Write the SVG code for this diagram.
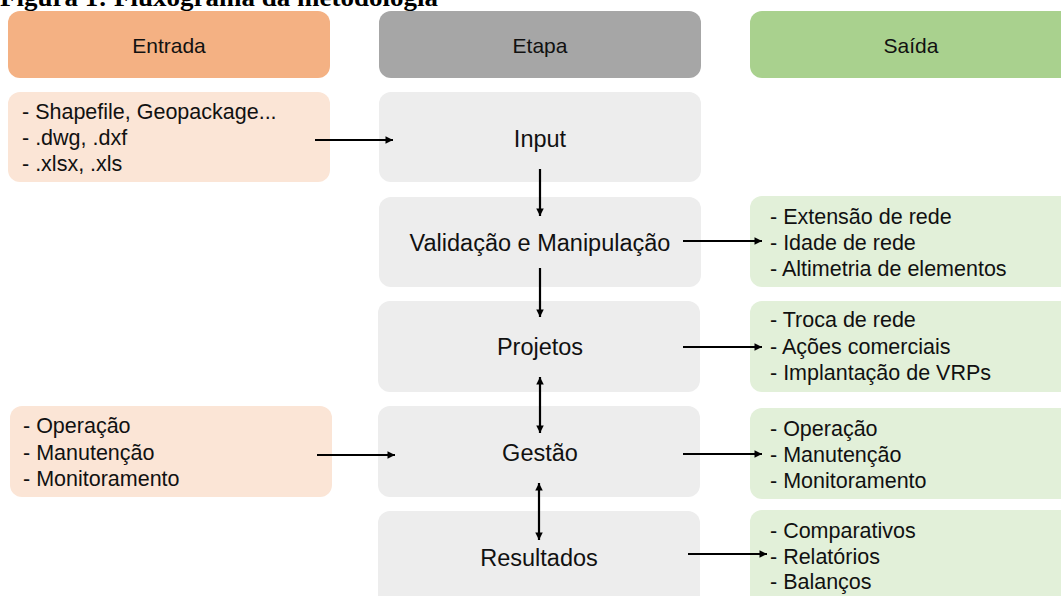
<svg xmlns="http://www.w3.org/2000/svg" width="1061" height="596" viewBox="0 0 1061 596">
<style>
.hdr{font-family:"Liberation Sans",Arial,sans-serif;font-size:21px;fill:#111;text-anchor:middle}
.lbl{font-family:"Liberation Sans",Arial,sans-serif;font-size:23.5px;fill:#111;text-anchor:middle}
.lst{font-family:"Liberation Sans",Arial,sans-serif;font-size:21.5px;fill:#111}
.title{font-family:"Liberation Serif","Times New Roman",serif;font-size:26px;font-weight:bold;fill:#000}
.conn line{stroke:#000;stroke-width:2.2}
</style>
<defs>
<marker id="ah" viewBox="0 0 10 10" refX="10" refY="5" markerWidth="4" markerHeight="3.4" markerUnits="strokeWidth" orient="auto-start-reverse">
<path d="M0,0 L10,5 L0,10 z" fill="#000"/>
</marker>
</defs>
<rect width="1061" height="596" fill="#fff"/>
<text class="title" x="0" y="6" textLength="438" lengthAdjust="spacingAndGlyphs">Figura 1: Fluxograma da metodologia</text>

<g id="hdr-entrada"><rect x="8" y="11" width="322" height="67" rx="12" fill="#F4B183"/><text class="hdr" x="169" y="53">Entrada</text></g>
<g id="hdr-etapa"><rect x="379" y="11" width="322" height="67" rx="12" fill="#A6A6A6"/><text class="hdr" x="540" y="53">Etapa</text></g>
<g id="hdr-saida"><rect x="750" y="11" width="322" height="67" rx="12" fill="#A9D18E"/><text class="hdr" x="911" y="53">Saída</text></g>

<g id="in1"><rect x="8" y="92" width="322" height="90" rx="12" fill="#FBE5D6"/>
<text class="lst" x="22" y="119">- Shapefile, Geopackage...</text>
<text class="lst" x="22" y="145">- .dwg, .dxf</text>
<text class="lst" x="22" y="171">- .xlsx, .xls</text></g>
<g id="in2"><rect x="10" y="406" width="322" height="91" rx="12" fill="#FBE5D6"/>
<text class="lst" x="23" y="433">- Operação</text>
<text class="lst" x="23" y="460">- Manutenção</text>
<text class="lst" x="23" y="486">- Monitoramento</text></g>

<g id="input"><rect x="379" y="92" width="322" height="90" rx="12" fill="#EDEDED"/><text class="lbl" x="540" y="147">Input</text></g>
<g id="validacao"><rect x="379" y="197" width="322" height="90" rx="12" fill="#EDEDED"/><text class="lbl" x="540" y="251">Validação e Manipulação</text></g>
<g id="projetos"><rect x="378" y="301" width="322" height="91" rx="12" fill="#EDEDED"/><text class="lbl" x="540" y="355">Projetos</text></g>
<g id="gestao"><rect x="378" y="406" width="322" height="91" rx="12" fill="#EDEDED"/><text class="lbl" x="540" y="461">Gestão</text></g>
<g id="resultados"><rect x="378" y="511" width="322" height="100" rx="12" fill="#EDEDED"/><text class="lbl" x="539" y="566">Resultados</text></g>

<g id="out1"><rect x="750" y="196" width="322" height="91" rx="12" fill="#E2F0D9"/>
<text class="lst" x="770" y="224">- Extensão de rede</text>
<text class="lst" x="770" y="250">- Idade de rede</text>
<text class="lst" x="770" y="276">- Altimetria de elementos</text></g>
<g id="out2"><rect x="750" y="301" width="322" height="91" rx="12" fill="#E2F0D9"/>
<text class="lst" x="770" y="327">- Troca de rede</text>
<text class="lst" x="770" y="354">- Ações comerciais</text>
<text class="lst" x="770" y="380">- Implantação de VRPs</text></g>
<g id="out3"><rect x="750" y="408" width="322" height="91" rx="12" fill="#E2F0D9"/>
<text class="lst" x="770" y="436">- Operação</text>
<text class="lst" x="770" y="462">- Manutenção</text>
<text class="lst" x="770" y="488">- Monitoramento</text></g>
<g id="out4"><rect x="750" y="510" width="322" height="100" rx="12" fill="#E2F0D9"/>
<text class="lst" x="770" y="538">- Comparativos</text>
<text class="lst" x="770" y="564">- Relatórios</text>
<text class="lst" x="770" y="589">- Balanços</text></g>

<g id="connectors" class="conn">
<line x1="315" y1="140" x2="393" y2="140" marker-end="url(#ah)"/>
<line x1="540" y1="169" x2="540" y2="216" marker-end="url(#ah)"/>
<line x1="683" y1="241" x2="762" y2="241" marker-end="url(#ah)"/>
<line x1="540" y1="268" x2="540" y2="317" marker-end="url(#ah)"/>
<line x1="683" y1="347" x2="762" y2="347" marker-end="url(#ah)"/>
<line x1="540" y1="377" x2="540" y2="433" marker-start="url(#ah)" marker-end="url(#ah)"/>
<line x1="317" y1="455" x2="395" y2="455" marker-end="url(#ah)"/>
<line x1="683" y1="454" x2="762" y2="454" marker-end="url(#ah)"/>
<line x1="539" y1="483" x2="539" y2="540" marker-start="url(#ah)" marker-end="url(#ah)"/>
<line x1="688" y1="554" x2="767" y2="554" marker-end="url(#ah)"/>
</g>
</svg>
